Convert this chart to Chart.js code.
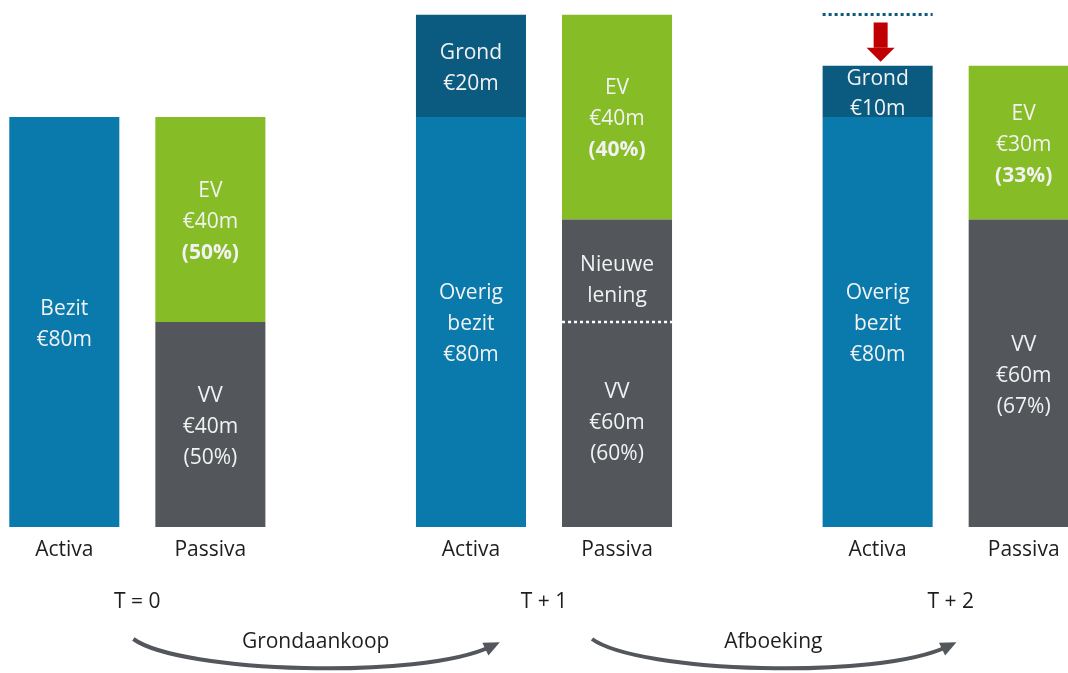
<!DOCTYPE html>
<html>
<head>
<meta charset="utf-8">
<script src="https://cdn.jsdelivr.net/npm/chart.js@4"></script>
<style>
  html, body { margin: 0; padding: 0; background: #fff; overflow: hidden; }
  body { width: 1068px; height: 673px; position: relative; }
  #wrap { position: absolute; left: -66px; top: 0; width: 1220px; height: 673px; }
</style>
</head>
<body>
<div id="wrap"><canvas id="balansChart"></canvas></div>
<script>
const groups = ["T = 0", "T + 1", "T + 2"];
const sides = ["Activa", "Passiva"];
const bezit = [80, 80, 80];
const grond = [0, 20, 10];
const vv = [40, 40, 60];
const lening = [0, 20, 0];
const ev = [40, 40, 30];
const bezitNames = [["Bezit"], ["Overig", "bezit"], ["Overig", "bezit"]];
const steps = ["Grondaankoop", "Afboeking"];

const colors = {
  blue: "#0a79ac",
  navy: "#0b5a80",
  green: "#86bc25",
  grey: "#53565a",
  red: "#c00000",
  text: "#1e1e1e",
  inner: "#f2f2f2",
};
const FONT = "'Open Sans', sans-serif";

// Segment labels
function segmentLines(key, i) {
  const passiva = vv[i] + lening[i] + ev[i];
  if (key === "bezit") return bezitNames[i].concat(["€" + bezit[i] + "m"]);
  if (key === "grond") return grond[i] ? ["Grond", "€" + grond[i] + "m"] : null;
  if (key === "vv") {
    const total = vv[i] + lening[i];
    return ["VV", "€" + total + "m", "(" + Math.round((total / passiva) * 100) + "%)"];
  }
  if (key === "lening") return lening[i] ? ["Nieuwe", "lening"] : null;
  if (key === "ev") return ["EV", "€" + ev[i] + "m", "(" + Math.round((ev[i] / passiva) * 100) + "%)"];
  return null;
}

const labelPlugin = {
  id: "segmentLabels",
  afterDatasetsDraw(chart) {
    const ctx = chart.ctx;
    ctx.save();
    ctx.textAlign = "center";
    ctx.textBaseline = "middle";
    chart.data.datasets.forEach((ds, d) => {
      const meta = chart.getDatasetMeta(d);
      meta.data.forEach((bar, i) => {
        const lines = segmentLines(ds.key, i);
        if (!lines) return;
        const lh = lines.length === 2 && ds.key === "grond" && grond[i] < 15 ? 30 : 31;
        const shift = ds.key === "lening" ? 7 : ds.key === "vv" && lening[i] ? -4 : 0;
        const mid = (bar.y + bar.base) / 2 + shift + 2.5;
        const top = mid - ((lines.length - 1) * lh) / 2;
        lines.forEach((line, j) => {
          const bold = ds.key === "ev" && j === 2;
          ctx.font = (bold ? "bold " : "") + "21px " + FONT;
          ctx.fillStyle = colors.inner;
          ctx.fillText(line, bar.x, top + j * lh);
        });
      });
    });
    ctx.restore();
  },
};

// Extra marks: side names, dotted lines, arrows
const notesPlugin = {
  id: "notes",
  afterDraw(chart) {
    const ctx = chart.ctx;
    const area = chart.chartArea;
    const x = chart.scales.x;
    const y = chart.scales.y;
    const activa = chart.getDatasetMeta(0).data;
    const vvBars = chart.getDatasetMeta(2).data;
    ctx.save();

    ctx.font = "21px " + FONT;
    ctx.fillStyle = colors.text;
    ctx.textAlign = "center";
    ctx.textBaseline = "middle";
    groups.forEach((g, i) => {
      ctx.fillText(sides[0], activa[i].x, area.bottom + 23);
      ctx.fillText(sides[1], vvBars[i].x, area.bottom + 23);
    });

    // new loan split
    groups.forEach((g, i) => {
      if (!lening[i]) return;
      const b = vvBars[i];
      ctx.strokeStyle = "#ffffff";
      ctx.lineWidth = 2.5;
      ctx.setLineDash([3, 3]);
      ctx.beginPath();
      ctx.moveTo(b.x - b.width / 2, b.y);
      ctx.lineTo(b.x + b.width / 2, b.y);
      ctx.stroke();
    });

    // write-down marker
    groups.forEach((g, i) => {
      if (i === 0) return;
      const prev = bezit[i - 1] + grond[i - 1];
      const now = bezit[i] + grond[i];
      if (now >= prev) return;
      const b = activa[i];
      const yPrev = y.getPixelForValue(prev);
      const yNow = y.getPixelForValue(now);
      ctx.strokeStyle = colors.navy;
      ctx.lineWidth = 3;
      ctx.setLineDash([3, 3]);
      ctx.beginPath();
      ctx.moveTo(b.x - b.width / 2, yPrev);
      ctx.lineTo(b.x + b.width / 2, yPrev);
      ctx.stroke();
      ctx.setLineDash([]);
      const cx = b.x + 3;
      const tip = yNow - 4;
      const headTop = tip - 14;
      ctx.fillStyle = colors.red;
      ctx.fillRect(cx - 7, yPrev + 8, 14, headTop - yPrev - 8);
      ctx.beginPath();
      ctx.moveTo(cx - 14, headTop);
      ctx.lineTo(cx + 14, headTop);
      ctx.lineTo(cx, tip);
      ctx.closePath();
      ctx.fill();
    });

    // transition arrows
    ctx.setLineDash([]);
    steps.forEach((step, i) => {
      const x0 = x.getPixelForValue(i) + (i === 0 ? -4 : 48);
      const x1 = x.getPixelForValue(i + 1) + (i === 0 ? -46 : 4);
      const y0 = 639;
      const y1 = 643;
      const w = x1 - x0;
      const c1x = x0 + w * 0.13, c1y = 673;
      const c2x = x1 - w * 0.21, c2y = 680;
      const ang = Math.atan2(y1 - c2y, x1 - c2x);
      ctx.strokeStyle = colors.grey;
      ctx.fillStyle = colors.grey;
      ctx.lineWidth = 4;
      ctx.beginPath();
      ctx.moveTo(x0, y0);
      ctx.bezierCurveTo(c1x, c1y, c2x, c2y, x1 - 8 * Math.cos(ang), y1 - 8 * Math.sin(ang));
      ctx.stroke();
      ctx.beginPath();
      ctx.moveTo(x1 + 2 * Math.cos(ang), y1 + 2 * Math.sin(ang));
      ctx.lineTo(x1 - 14 * Math.cos(ang) + 7 * Math.sin(ang), y1 - 14 * Math.sin(ang) - 7 * Math.cos(ang));
      ctx.lineTo(x1 - 14 * Math.cos(ang) - 7 * Math.sin(ang), y1 - 14 * Math.sin(ang) + 7 * Math.cos(ang));
      ctx.closePath();
      ctx.fill();
      ctx.fillStyle = colors.text;
      ctx.font = "21px " + FONT;
      ctx.fillText(step, (x0 + x1) / 2, 642);
    });

    ctx.restore();
  },
};

new Chart(document.getElementById("balansChart"), {
  type: "bar",
  data: {
    labels: groups,
    datasets: [
      { key: "bezit", label: "Bezit", data: bezit, stack: "activa", backgroundColor: colors.blue },
      { key: "grond", label: "Grond", data: grond, stack: "activa", backgroundColor: colors.navy },
      { key: "vv", label: "VV", data: vv, stack: "passiva", backgroundColor: colors.grey },
      { key: "lening", label: "Nieuwe lening", data: lening, stack: "passiva", backgroundColor: colors.grey },
      { key: "ev", label: "EV", data: ev, stack: "passiva", backgroundColor: colors.green },
    ],
  },
  options: {
    responsive: true,
    maintainAspectRatio: false,
    animation: false,
    categoryPercentage: 0.7183,
    barPercentage: 0.7534,
    layout: { padding: { top: 14.5, bottom: 60, left: 0, right: 0 } },
    plugins: {
      legend: { display: false },
      tooltip: { enabled: false },
    },
    scales: {
      x: {
        stacked: true,
        grid: { display: false, drawTicks: false },
        border: { display: false },
        afterFit: (scale) => {
          scale.height = 86;
        },
        ticks: {
          padding: 62,
          color: colors.text,
          font: { family: FONT, size: 21, lineHeight: 1.2 },
        },
      },
      y: {
        stacked: true,
        display: false,
        min: 0,
        max: 100,
      },
    },
  },
  plugins: [labelPlugin, notesPlugin],
});
</script>
</body>
</html>
